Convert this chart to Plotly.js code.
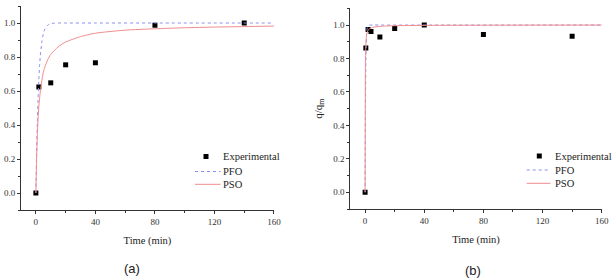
<!DOCTYPE html>
<html>
<head>
<meta charset="utf-8">
<script src="https://cdn.plot.ly/plotly-3.0.1.min.js"></script>
<style>
  html, body { margin: 0; padding: 0; background: #fff; }
  #chart { width: 612px; height: 278px; }
</style>
</head>
<body>
<div id="chart"></div>
<script>
// Panel (a): experimental uptake and kinetic model curves
const timeA = [0, 2, 10, 20, 40, 80, 140];
const expA  = [0, 0.624, 0.648, 0.754, 0.766, 0.987, 1.0];

const pfoTimeA = [0, 0.5, 1, 1.5, 2, 2.5, 3, 4, 5, 6, 8, 10, 12, 15, 20, 40, 80, 160];
const pfoA     = [0, 0.24, 0.42, 0.56, 0.667, 0.75, 0.81, 0.89, 0.936, 0.963, 0.988, 0.996, 0.999, 1.0, 1.0, 1.0, 1.0, 1.0];

const psoTimeA = [0, 0.5, 1, 1.5, 2, 3, 4, 5, 6, 8, 10, 15, 20, 30, 40, 60, 80, 100, 120, 140, 160];
const psoA     = [0, 0.2, 0.34, 0.44, 0.51, 0.6, 0.66, 0.71, 0.74, 0.785, 0.815, 0.86, 0.888, 0.92, 0.94, 0.958, 0.966, 0.972, 0.976, 0.979, 0.982];

// Panel (b)
const timeB = [0, 0.5, 2, 4, 10, 20, 40, 80, 140];
const expB  = [0, 0.863, 0.973, 0.962, 0.928, 0.98, 1.0, 0.944, 0.933];

const pfoTimeB = [0, 0.25, 0.5, 0.75, 1, 1.5, 2, 3, 5, 10, 160];
const pfoB     = [0, 0.52, 0.77, 0.89, 0.95, 0.985, 0.995, 0.999, 1.0, 1.0, 1.0];

const psoTimeB = [0, 0.1, 0.25, 0.5, 0.75, 1, 1.5, 2, 3, 5, 10, 20, 40, 80, 160];
const psoB     = [0, 0.5, 0.78, 0.88, 0.92, 0.94, 0.958, 0.968, 0.978, 0.986, 0.992, 0.996, 0.998, 0.999, 1.0];

const xTicks = [0, 40, 80, 120, 160];
const yTicks = [0, 0.2, 0.4, 0.6, 0.8, 1.0];
const yTickText = ['0.0', '0.2', '0.4', '0.6', '0.8', '1.0'];
const seriesNames = ['Experimental', 'PFO', 'PSO'];

const serif = 'Liberation Serif, Times New Roman, serif';
const sans = 'Liberation Sans, Arial, sans-serif';
const axisColor = '#333';
const textColor = '#222';
const pfoColor = '#8c8cf0';
const psoColor = '#f08c8c';

function expTrace(x, y, xa, ya) {
  return { x: x, y: y, xaxis: xa, yaxis: ya, type: 'scatter', mode: 'markers',
    name: seriesNames[0], showlegend: false,
    marker: { symbol: 'square', size: 5, color: '#000' } };
}
function lineTrace(x, y, xa, ya, name, color, dash) {
  return { x: x, y: y, xaxis: xa, yaxis: ya, type: 'scatter', mode: 'lines',
    name: name, showlegend: false,
    line: { color: color, width: 1, dash: dash, shape: 'spline', smoothing: 0.6 } };
}

const traces = [
  expTrace(timeA, expA, 'x', 'y'),
  lineTrace(pfoTimeA, pfoA, 'x', 'y', seriesNames[1], pfoColor, 'dot'),
  lineTrace(psoTimeA, psoA, 'x', 'y', seriesNames[2], psoColor, 'solid'),
  expTrace(timeB, expB, 'x2', 'y2'),
  lineTrace(pfoTimeB, pfoB, 'x2', 'y2', seriesNames[1], pfoColor, 'dot'),
  lineTrace(psoTimeB, psoB, 'x2', 'y2', seriesNames[2], psoColor, 'solid')
];

function xAxis(domain, anchor) {
  return {
    domain: domain, anchor: anchor, range: [-10, 160],
    tickvals: xTicks, ticks: 'outside', ticklen: 3, tickwidth: 1, tickcolor: axisColor,
    minor: { tickvals: [20, 60, 100, 140], ticks: 'outside', ticklen: 2, tickcolor: axisColor },
    showline: true, linecolor: axisColor, linewidth: 1, showgrid: false, zeroline: false,
    tickfont: { family: serif, size: 9, color: axisColor },
    title: { text: 'Time (min)', font: { family: serif, size: 10.5, color: textColor }, standoff: 10 }
  };
}
function yAxis(domain, anchor, title) {
  const ax = {
    domain: domain, anchor: anchor, range: [-0.1, 1.1],
    tickmode: 'array', tickvals: yTicks, ticktext: yTickText,
    ticks: 'outside', ticklen: 3, tickwidth: 1, tickcolor: axisColor,
    minor: { tickvals: [-0.1, 0.1, 0.3, 0.5, 0.7, 0.9, 1.1], ticks: 'outside', ticklen: 2, tickcolor: axisColor },
    showline: true, linecolor: axisColor, linewidth: 1, showgrid: false, zeroline: false,
    tickfont: { family: serif, size: 9, color: axisColor }
  };
  if (title) ax.title = { text: title, font: { family: serif, size: 11, color: textColor }, standoff: 8 };
  return ax;
}

// Compact legend keys (marker, dotted line, solid line) placed in page pixels
const W = 612, H = 278;
const px = v => v / W;
const py = v => 1 - v / H;

function legendParts(keyX, lineX0, lineX1, textX, rows) {
  const shapes = [
    { type: 'rect', xref: 'paper', yref: 'paper',
      x0: px(keyX - 2.5), x1: px(keyX + 2.5), y0: py(rows[0] + 2.5), y1: py(rows[0] - 2.5),
      fillcolor: '#000', line: { width: 0 } },
    { type: 'line', xref: 'paper', yref: 'paper', x0: px(lineX0), x1: px(lineX1), y0: py(rows[1]), y1: py(rows[1]),
      line: { color: pfoColor, width: 1, dash: 'dot' } },
    { type: 'line', xref: 'paper', yref: 'paper', x0: px(lineX0), x1: px(lineX1), y0: py(rows[2]), y1: py(rows[2]),
      line: { color: psoColor, width: 1 } }
  ];
  const notes = seriesNames.map((name, i) => ({
    text: name, xref: 'paper', yref: 'paper', x: px(textX), y: py(rows[i]),
    xanchor: 'left', yanchor: 'middle', showarrow: false,
    font: { family: serif, size: 10.5, color: textColor }
  }));
  return { shapes: shapes, notes: notes };
}

const legA = legendParts(206, 195, 220.5, 221, [156.5, 171.5, 184.3]);
const legB = legendParts(539.3, 526.7, 550.5, 553, [156, 170, 183.3]);

const layout = {
  width: W, height: H,
  margin: { l: 0, r: 0, t: 0, b: 0 },
  paper_bgcolor: '#fff', plot_bgcolor: '#fff',
  showlegend: false,
  xaxis: xAxis([0.0343, 0.4477], 'y'),
  yaxis: yAxis([0.2446, 0.9784], 'x', ''),
  xaxis2: xAxis([0.5724, 0.9832], 'y2'),
  yaxis2: yAxis([0.2482, 0.9701], 'x2', 'q/q<sub>m</sub>'),
  shapes: legA.shapes.concat(legB.shapes),
  annotations: legA.notes.concat(legB.notes, [
    { text: '(a)', xref: 'paper', yref: 'paper', x: px(131.7), y: py(268), xanchor: 'center', yanchor: 'middle',
      showarrow: false, font: { family: sans, size: 13, color: textColor } },
    { text: '(b)', xref: 'paper', yref: 'paper', x: px(472.7), y: py(270), xanchor: 'center', yanchor: 'middle',
      showarrow: false, font: { family: sans, size: 13, color: textColor } }
  ])
};

Plotly.newPlot('chart', traces, layout, { staticPlot: true, displayModeBar: false });
</script>
</body>
</html>
